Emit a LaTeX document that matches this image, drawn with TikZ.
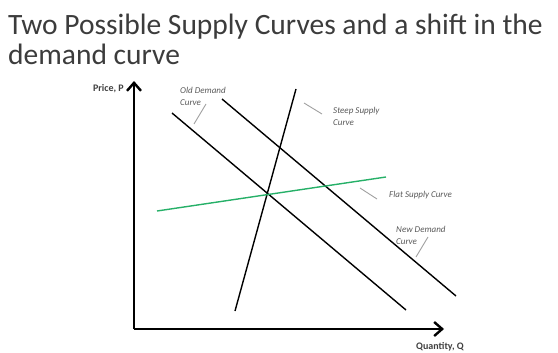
\documentclass[tikz,border=0pt]{standalone}
\usepackage{fontspec}
\setmainfont{Carlito}
\usetikzlibrary{arrows.meta, positioning}
\definecolor{titlegray}{RGB}{60,60,60}
\definecolor{flatgreen}{RGB}{38,176,104}
\definecolor{leadgray}{RGB}{160,160,160}

\begin{document}
\begin{tikzpicture}[x=1pt, y=-1pt,
  axis/.style={line width=2.4pt, -{Straight Barb[length=8pt, width=14pt]}},
  curve/.style={line width=1.4pt},
  lead/.style={leadgray, line width=0.9pt},
  ttl/.style={anchor=base west, inner sep=0pt, text=titlegray, font=\fontsize{29.5}{30}\selectfont},
  lbl/.style={font=\fontsize{9}{12}\selectfont\itshape, text=black!65, align=left, inner sep=0pt},
  axlbl/.style={font=\fontsize{10}{11}\selectfont\bfseries, text=black!75, inner sep=0pt}
]
\useasboundingbox (0,0) rectangle (558,353);

% title
\node[ttl] (title) at (8,35) {Two Possible Supply Curves and a shift in the};
\node[ttl] (title2) at (8,65) {demand curve};

% axes
\coordinate (o) at (134,329);
\coordinate (ytop) at (134,81);
\coordinate (xend) at (444,329);
\draw[axis] (o) -- (ytop);
\draw[axis] (o) -- (xend);
\node[axlbl, anchor=east] (pl) at (124,89) {Price, P};
\node[axlbl, anchor=north] (ql) at (440,342) {Quantity, Q};

% curves
\coordinate (od1) at (172,113);
\coordinate (od2) at (406,310);
\coordinate (nd1) at (222,99);
\coordinate (nd2) at (456,296);
\coordinate (ss1) at (296,89);
\coordinate (ss2) at (235,311);
\coordinate (fs1) at (157,211);
\coordinate (fs2) at (386,177);
\draw[curve] (od1) -- (od2);
\draw[curve] (nd1) -- (nd2);
\draw[curve] (ss1) -- (ss2);
\draw[curve, flatgreen] (fs1) -- (fs2);

% labels (base = last line)
\node[lbl, anchor=base west] (old) at (180,106) {Old Demand\\Curve};
\node[lbl, anchor=base west] (steep) at (333,126) {Steep Supply\\Curve};
\node[lbl, anchor=west] (flat) at (389,195) {Flat Supply Curve};
\node[lbl, anchor=base west] (new) at (396,244) {New Demand\\Curve};

\coordinate (oldA) at (206,104);
\coordinate (oldB) at (194,124);
\coordinate (steepA) at (304,103);
\coordinate (steepB) at (322,114);
\coordinate (flatA) at (360,188);
\coordinate (flatB) at (377,199);
\coordinate (newA) at (428,237);
\coordinate (newB) at (416,257);
\draw[lead] (oldA) -- (oldB);
\draw[lead] (steepA) -- (steepB);
\draw[lead] (flatA) -- (flatB);
\draw[lead] (newA) -- (newB);
\end{tikzpicture}
\end{document}
